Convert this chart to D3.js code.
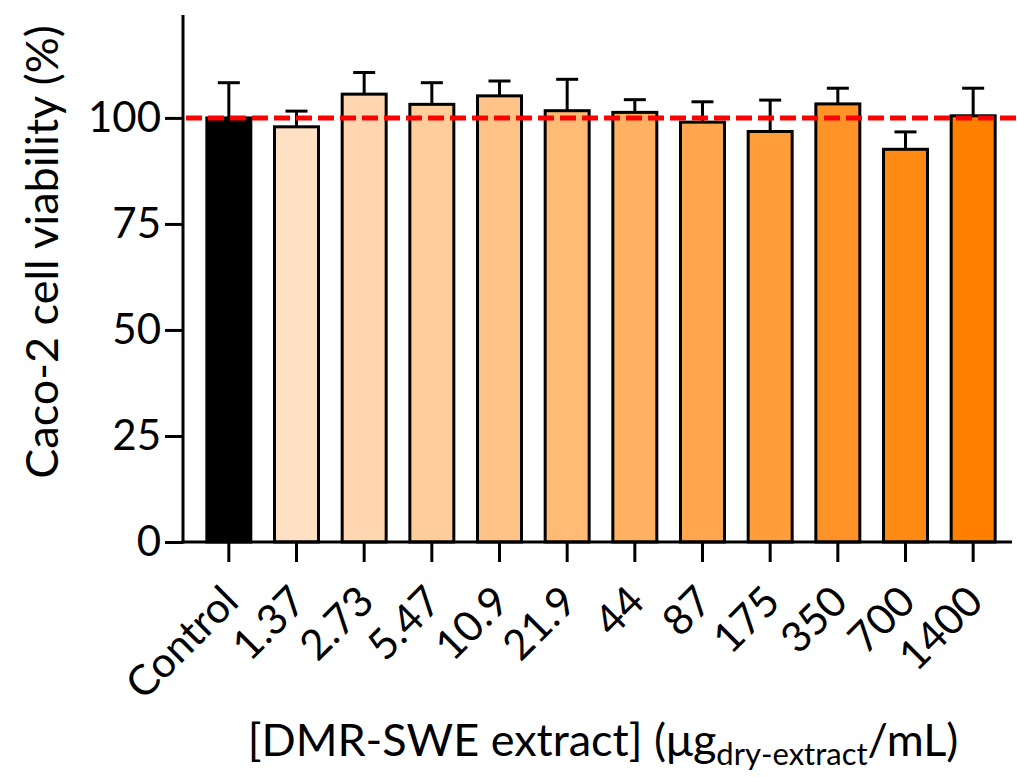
<!DOCTYPE html>
<html>
<head>
<meta charset="utf-8">
<script src="https://cdn.jsdelivr.net/npm/d3@7"></script>
<style>
  body { margin: 0; background: #fff; }
  svg { font-family: "Lato", "Open Sans", sans-serif; }
</style>
</head>
<body>
<svg id="chart" width="1017" height="777"></svg>
<script>
// Caco-2 viability data
var categories = ["Control", "1.37", "2.73", "5.47", "10.9", "21.9", "44", "87", "175", "350", "700", "1400"];
var means = [100, 97.9, 105.6, 103.2, 105.2, 101.7, 101.3, 99.0, 96.8, 103.3, 92.6, 100.5];
var sdUpper = [108.3, 101.6, 110.7, 108.3, 108.7, 109.1, 104.3, 103.8, 104.2, 107.0, 96.7, 107.0];
var yTicks = [0, 25, 50, 75, 100];
var referenceLevel = 100;

var svg = d3.select("#chart");

var yScale = d3.scaleLinear()
    .domain([0, 124.5])
    .range([542, 14]);

var xScale = d3.scaleBand()
    .domain(categories)
    .range([195, 1007])
    .paddingInner(0.35)
    .paddingOuter(0.175);

var colorScale = d3.scaleLinear()
    .domain([1, categories.length - 1])
    .range(["#FFE0C2", "#FF8000"]);

function barColor(d, i) {
  if (i == 0) return "#000";
  return colorScale(i);
}

// bars
svg.append("g").selectAll("rect")
  .data(means)
  .enter()
  .append("rect")
  .attr("x", function (d, i) { return xScale(categories[i]); })
  .attr("y", function (d) { return yScale(d); })
  .attr("width", xScale.bandwidth())
  .attr("height", function (d) { return yScale(0) - yScale(d); })
  .style("fill", barColor)
  .style("stroke", "#000")
  .style("stroke-width", 3);

// upper error bars
var err = svg.append("g").selectAll("g")
  .data(sdUpper)
  .enter()
  .append("g");

err.append("line")
  .attr("x1", function (d, i) { return xScale(categories[i]) + xScale.bandwidth() / 2; })
  .attr("x2", function (d, i) { return xScale(categories[i]) + xScale.bandwidth() / 2; })
  .attr("y1", function (d, i) { return yScale(means[i]); })
  .attr("y2", function (d) { return yScale(d); })
  .style("stroke", "#000")
  .style("stroke-width", 3);

err.append("line")
  .attr("x1", function (d, i) { return xScale(categories[i]) + xScale.bandwidth() / 2 - 11; })
  .attr("x2", function (d, i) { return xScale(categories[i]) + xScale.bandwidth() / 2 + 11; })
  .attr("y1", function (d) { return yScale(d); })
  .attr("y2", function (d) { return yScale(d); })
  .style("stroke", "#000")
  .style("stroke-width", 3);

// y axis
var yAxis = d3.axisLeft(yScale).tickValues(yTicks).tickSize(18).tickPadding(4);
var yG = svg.append("g")
  .attr("transform", "translate(183, 0)")
  .call(yAxis);
yG.select(".domain").remove();
yG.append("line")
  .attr("x1", 0).attr("x2", 0)
  .attr("y1", yScale(0) + 1.5).attr("y2", 15)
  .style("stroke", "#000").style("stroke-width", 3);
yG.selectAll(".tick line").style("stroke", "#000").style("stroke-width", 3);
yG.selectAll(".tick text")
  .style("font-size", "42px")
  .style("font-family", "Lato, sans-serif")
  .attr("fill", "#000");

// x axis
var xAxis = d3.axisBottom(xScale).tickSize(20).tickSizeOuter(0);
var xG = svg.append("g")
  .attr("transform", "translate(0, 542)")
  .call(xAxis);
xG.select(".domain").remove();
xG.append("line")
  .attr("x1", 181.5).attr("x2", 1012)
  .attr("y1", 0).attr("y2", 0)
  .style("stroke", "#000").style("stroke-width", 3);
xG.selectAll(".tick line").style("stroke", "#000").style("stroke-width", 3);
xG.selectAll(".tick text")
  .style("font-size", "42px")
  .style("font-family", "Lato, sans-serif")
  .attr("fill", "#000")
  .attr("text-anchor", "end")
  .attr("dy", null)
  .attr("y", 0)
  .attr("transform", "translate(12, 62) rotate(-45)");

// reference line at 100%
svg.append("line")
  .attr("x1", 186)
  .attr("x2", 1017)
  .attr("y1", yScale(referenceLevel))
  .attr("y2", yScale(referenceLevel))
  .style("stroke", "#FF0000")
  .style("stroke-width", 5)
  .style("stroke-dasharray", "16,6");

// axis titles
svg.append("text")
  .attr("transform", "translate(58, 252) rotate(-90)")
  .attr("text-anchor", "middle")
  .style("font-size", "45px")
  .text("Caco-2 cell viability (%)");

var xTitle = svg.append("text")
  .attr("x", 603)
  .attr("y", 756)
  .attr("text-anchor", "middle")
  .style("font-size", "45px");
xTitle.append("tspan").text("[DMR-SWE extract] (\u03bcg");
xTitle.append("tspan").attr("dy", 9).style("font-size", "31px").text("dry-extract");
xTitle.append("tspan").attr("dy", -9).text("/mL)");
</script>
</body>
</html>
